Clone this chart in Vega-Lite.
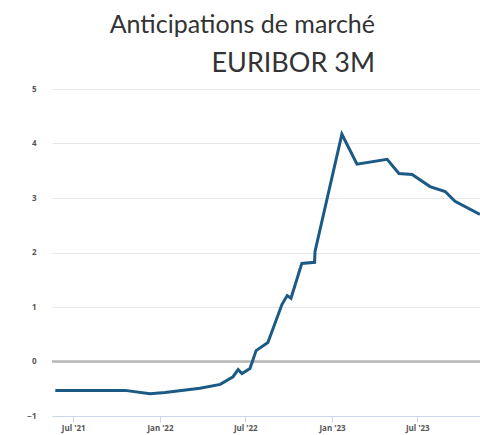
{
  "$schema": "https://vega.github.io/schema/vega-lite/v6.json",
  "autosize": "none",
  "width": 428,
  "height": 327,
  "padding": {"left": 52, "top": 89, "right": 0, "bottom": 19},
  "background": "white",
  "title": {
    "text": "Anticipations de marché",
    "subtitle": "EURIBOR 3M",
    "anchor": "end",
    "frame": "group",
    "dx": -105,
    "offset": 8,
    "font": "Lato",
    "fontSize": 25,
    "lineHeight": 25,
    "fontWeight": "normal",
    "color": "#333333",
    "subtitleFont": "Lato",
    "subtitleFontSize": 27,
    "subtitleLineHeight": 27,
    "subtitleColor": "#333333",
    "subtitlePadding": 13
  },
  "config": {
    "view": {"stroke": null},
    "axis": {"labelFont": "Open Sans", "labelFontSize": 8, "labelColor": "#555555", "labelFontWeight": "bold"}
  },
  "data": {
    "values": [
      {"date": "2021-05-24", "rate": -0.53},
      {"date": "2021-10-19", "rate": -0.53},
      {"date": "2021-12-11", "rate": -0.59},
      {"date": "2022-01-12", "rate": -0.57},
      {"date": "2022-03-27", "rate": -0.49},
      {"date": "2022-05-09", "rate": -0.42},
      {"date": "2022-06-05", "rate": -0.28},
      {"date": "2022-06-16", "rate": -0.15},
      {"date": "2022-06-24", "rate": -0.22},
      {"date": "2022-07-11", "rate": -0.13},
      {"date": "2022-07-24", "rate": 0.2},
      {"date": "2022-08-18", "rate": 0.35},
      {"date": "2022-09-17", "rate": 1.05},
      {"date": "2022-09-28", "rate": 1.21},
      {"date": "2022-10-06", "rate": 1.16},
      {"date": "2022-10-29", "rate": 1.8},
      {"date": "2022-11-25", "rate": 1.82},
      {"date": "2022-11-26", "rate": 2.02},
      {"date": "2023-01-22", "rate": 4.17},
      {"date": "2023-02-23", "rate": 3.62},
      {"date": "2023-04-28", "rate": 3.71},
      {"date": "2023-05-23", "rate": 3.45},
      {"date": "2023-06-20", "rate": 3.43},
      {"date": "2023-07-28", "rate": 3.21},
      {"date": "2023-08-29", "rate": 3.12},
      {"date": "2023-09-19", "rate": 2.94},
      {"date": "2023-11-11", "rate": 2.7}
    ]
  },
  "layer": [
    {
      "mark": {"type": "rule", "color": "#b8b8b8", "strokeWidth": 2.5},
      "data": {"values": [{"zero": 0}]},
      "encoding": {"y": {"field": "zero", "type": "quantitative", "scale": {"domain": [-1, 5]}}}
    },
    {
      "mark": {"type": "line", "color": "#1c5a86", "strokeWidth": 3, "clip": true, "strokeJoin": "miter"},
      "encoding": {
        "x": {
          "field": "date",
          "type": "temporal",
          "scale": {"type": "utc", "domain": [{"year": 2021, "month": 5, "date": 17, "utc": true}, {"year": 2023, "month": 11, "date": 11, "utc": true}]},
          "axis": {
            "title": null,
            "values": [
              {"year": 2021, "month": 7, "date": 1, "utc": true},
              {"year": 2022, "month": 1, "date": 1, "utc": true},
              {"year": 2022, "month": 7, "date": 1, "utc": true},
              {"year": 2023, "month": 1, "date": 1, "utc": true},
              {"year": 2023, "month": 7, "date": 1, "utc": true}
            ],
            "labelExpr": "utcFormat(datum.value, \"%b '%y\")",
            "grid": false,
            "domainColor": "#ccd6eb",
            "tickColor": "#ccd6eb",
            "tickSize": 6,
            "labelPadding": 2,
            "labelFlush": false
          }
        },
        "y": {
          "field": "rate",
          "type": "quantitative",
          "scale": {"domain": [-1, 5], "nice": false, "zero": false},
          "axis": {
            "title": null,
            "values": [-1, 0, 1, 2, 3, 4, 5],
            "format": "d",
            "domain": false,
            "ticks": false,
            "gridColor": "#e6e6e6",
            "labelPadding": 16
          }
        }
      }
    }
  ]
}
